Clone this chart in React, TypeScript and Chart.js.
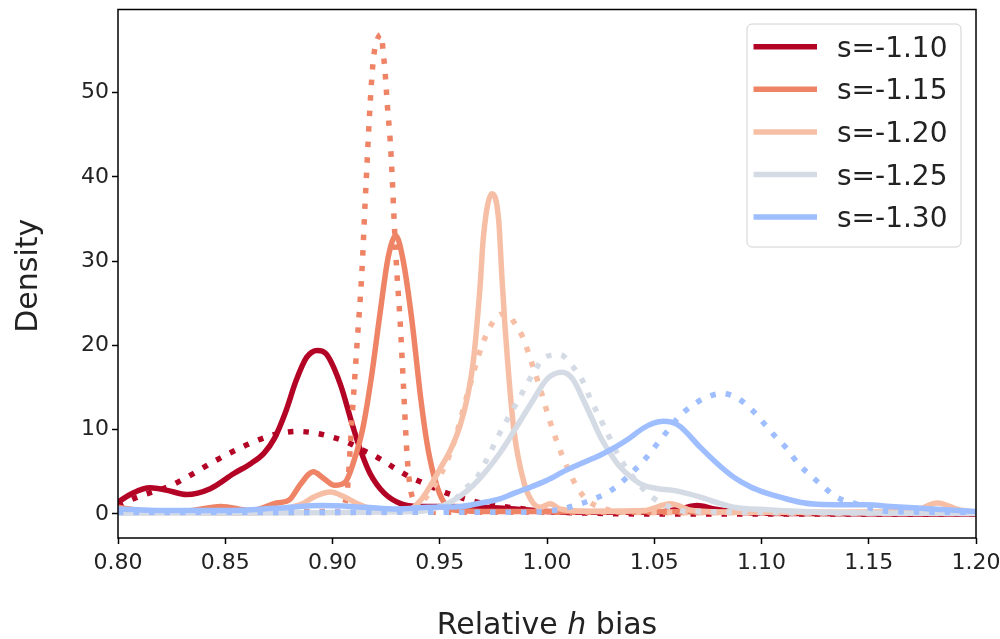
import { useEffect, useRef } from 'react';
import { Chart, registerables } from 'chart.js';

Chart.register(...registerables);

// Series labels and colours (one per slope value)
const seriesLabels = ['s=-1.10', 's=-1.15', 's=-1.20', 's=-1.25', 's=-1.30'];
const seriesColors = ['#b40426', '#ee8366', '#f6bfa5', '#d5dbe5', '#9ebeff'];

// Axis ticks
const xTickValues = [0.8, 0.85, 0.9, 0.95, 1.0, 1.05, 1.1, 1.15, 1.2];
const yTickValues = [0, 10, 20, 30, 40, 50];

// s = -1.10
const s110SolidX = [0.800, 0.807, 0.815, 0.823, 0.832, 0.843, 0.854, 0.862, 0.868, 0.873, 0.878, 0.883, 0.888, 0.893, 0.897, 0.9035, 0.9096, 0.913, 0.9175, 0.924, 0.932, 0.940, 0.955, 0.970, 0.985, 1.000, 1.020, 1.050, 1.062, 1.070, 1.078, 1.090, 1.120, 1.200];
const s110SolidY = [1.4, 2.5, 3.1, 2.8, 2.3, 3.0, 4.8, 6.0, 7.2, 9.0, 12.0, 15.8, 18.6, 19.4, 19.0, 15.5, 10.3, 7.6, 4.8, 2.5, 1.2, 0.9, 0.9, 0.8, 0.6, 0.3, 0.2, 0.2, 0.6, 1.0, 0.6, 0.2, 0.05, 0.0];
const s110DotX = [0.800, 0.809, 0.824, 0.831, 0.846, 0.860, 0.870, 0.876, 0.883, 0.892, 0.900, 0.907, 0.914, 0.921, 0.928, 0.936, 0.943, 0.950, 0.959, 0.973, 0.986, 1.000, 1.020, 1.050, 1.200];
const s110DotY = [1.0, 2.0, 3.3, 4.2, 6.4, 8.2, 9.2, 9.6, 9.8, 9.6, 9.1, 8.5, 7.6, 6.7, 5.6, 4.4, 3.6, 2.8, 2.0, 1.1, 0.7, 0.3, 0.1, 0.0, 0.0];

// s = -1.15
const s115SolidX = [0.800, 0.815, 0.830, 0.848, 0.862, 0.874, 0.880, 0.885, 0.891, 0.896, 0.901, 0.906, 0.910, 0.914, 0.918, 0.922, 0.926, 0.9295, 0.933, 0.937, 0.941, 0.944, 0.947, 0.951, 0.956, 0.970, 1.000, 1.050, 1.100, 1.200];
const s115SolidY = [0.8, 0.3, 0.3, 0.9, 0.4, 1.3, 1.7, 3.5, 5.0, 4.2, 3.4, 3.8, 6.3, 10.0, 16.0, 23.5, 30.5, 33.0, 30.0, 23.0, 14.0, 8.5, 4.8, 1.8, 0.5, 0.3, 0.3, 0.3, 0.2, 0.1];
const s115DotX = [0.800, 0.880, 0.903, 0.9067, 0.9090, 0.9115, 0.9137, 0.9152, 0.9160, 0.9172, 0.9188, 0.9199, 0.9227, 0.9237, 0.9245, 0.9256, 0.9269, 0.9278, 0.9289, 0.9300, 0.9315, 0.9331, 0.9347, 0.9362, 0.9385, 0.942, 0.950, 1.000, 1.200];
const s115DotY = [0.2, 0.3, 0.3, 2.4, 11.0, 20.4, 28.7, 36.9, 41.0, 47.1, 53.3, 55.4, 56.9, 54.6, 52.5, 48.4, 44.3, 40.1, 33.9, 28.7, 23.0, 15.1, 7.2, 3.2, 1.3, 0.4, 0.2, 0.2, 0.1];

// s = -1.20
const s120SolidX = [0.800, 0.830, 0.860, 0.885, 0.892, 0.899, 0.905, 0.911, 0.920, 0.935, 0.941, 0.946, 0.950, 0.955, 0.9595, 0.963, 0.9657, 0.9688, 0.9704, 0.9743, 0.9775, 0.979, 0.9805, 0.9844, 0.9893, 0.9935, 0.997, 1.0015, 1.006, 1.020, 1.045, 1.0575, 1.068, 1.090, 1.170, 1.182, 1.192, 1.200];
const s120SolidY = [0.6, 0.2, 0.1, 1.1, 2.1, 2.6, 2.1, 1.3, 0.5, 0.4, 1.6, 3.5, 5.3, 7.6, 10.5, 14.0, 18.2, 27.0, 33.0, 38.0, 34.8, 28.0, 22.0, 10.3, 3.7, 1.3, 0.8, 1.2, 0.6, 0.3, 0.4, 1.2, 0.4, 0.2, 0.3, 1.3, 0.5, 0.2];
const s120DotX = [0.800, 0.930, 0.941, 0.949, 0.956, 0.963, 0.970, 0.976, 0.981, 0.985, 0.989, 0.992, 0.9968, 1.0015, 1.007, 1.014, 1.019, 1.026, 1.035, 1.200];
const s120DotY = [0.1, 0.2, 1.3, 4.0, 8.0, 14.3, 20.2, 23.2, 23.8, 22.6, 20.8, 18.6, 14.9, 10.9, 7.0, 3.2, 1.6, 0.7, 0.2, 0.1];

// s = -1.25
const s125SolidX = [0.800, 0.940, 0.947, 0.955, 0.963, 0.970, 0.978, 0.986, 0.9935, 1.000, 1.007, 1.012, 1.017, 1.021, 1.025, 1.030, 1.034, 1.040, 1.045, 1.052, 1.059, 1.0715, 1.080, 1.087, 1.103, 1.130, 1.200];
const s125SolidY = [0.1, 0.3, 0.6, 1.4, 2.8, 4.6, 7.2, 10.4, 13.5, 16.0, 16.8, 16.0, 13.5, 11.3, 9.1, 7.0, 5.6, 4.2, 3.4, 3.0, 2.8, 2.0, 1.3, 0.8, 0.5, 0.2, 0.05];
const s125DotX = [0.800, 0.945, 0.955, 0.961, 0.9675, 0.972, 0.978, 0.9866, 0.9936, 0.999, 1.006, 1.012, 1.0164, 1.020, 1.0234, 1.027, 1.034, 1.044, 1.0496, 1.0575, 1.065, 1.200];
const s125DotY = [0.1, 0.3, 1.2, 2.8, 4.4, 6.5, 9.6, 13.5, 16.7, 18.6, 18.9, 17.5, 15.9, 13.8, 12.0, 10.2, 6.6, 3.2, 1.9, 0.8, 0.3, 0.1];

// s = -1.30
const s130SolidX = [0.800, 0.820, 0.850, 0.875, 0.895, 0.915, 0.930, 0.945, 0.960, 0.969, 0.978, 0.985, 0.9935, 1.000, 1.009, 1.017, 1.025, 1.031, 1.0374, 1.045, 1.050, 1.054, 1.058, 1.062, 1.0715, 1.081, 1.088, 1.095, 1.102, 1.110, 1.118, 1.126, 1.138, 1.149, 1.160, 1.173, 1.186, 1.200];
const s130SolidY = [0.6, 0.4, 0.4, 0.7, 1.0, 0.8, 0.6, 0.8, 0.9, 1.3, 1.8, 2.5, 3.3, 4.0, 5.2, 6.1, 7.0, 7.8, 8.8, 10.2, 10.8, 11.0, 10.9, 10.4, 7.9, 5.6, 4.2, 3.2, 2.5, 1.9, 1.4, 1.15, 1.1, 1.1, 0.9, 0.7, 0.5, 0.3];
const s130DotX = [0.800, 0.990, 1.005, 1.013, 1.020, 1.028, 1.034, 1.040, 1.046, 1.051, 1.056, 1.061, 1.0668, 1.074, 1.0817, 1.089, 1.0957, 1.101, 1.1064, 1.112, 1.117, 1.1228, 1.129, 1.135, 1.143, 1.1506, 1.160, 1.200];
const s130DotY = [0.2, 0.2, 0.5, 1.0, 1.6, 2.5, 3.6, 5.0, 6.6, 8.2, 9.8, 11.4, 12.7, 13.8, 14.3, 13.7, 12.3, 10.8, 9.2, 7.7, 6.0, 4.6, 3.2, 2.0, 1.3, 0.7, 0.3, 0.2];

const solidSeries = [
  [s110SolidX, s110SolidY],
  [s115SolidX, s115SolidY],
  [s120SolidX, s120SolidY],
  [s125SolidX, s125SolidY],
  [s130SolidX, s130SolidY],
];
const dottedSeries = [
  [s110DotX, s110DotY],
  [s115DotX, s115DotY],
  [s120DotX, s120DotY],
  [s125DotX, s125DotY],
  [s130DotX, s130DotY],
];

const FONT = "'DejaVu Sans', sans-serif";
const LINE_W = 5.5;

const toPoints = (xs: number[], ys: number[]) => xs.map((x, i) => ({ x, y: ys[i] }));

// keep the plot area fixed: drop the extra room Chart.js reserves for edge labels
const noEdgePadding = (s: any) => {
  s.paddingTop = 0;
  s.paddingBottom = 0;
  s.paddingLeft = 0;
  s.paddingRight = 0;
};

// Frame, legend and axis titles drawn on top of the plotted curves
const decorations = {
  id: 'decorations',
  afterDatasetsDraw(chart: any) {
    const { ctx, chartArea: a } = chart;
    ctx.save();

    // full box around the plot area
    ctx.strokeStyle = '#000';
    ctx.lineWidth = 1.5;
    ctx.strokeRect(a.left, a.top, a.right - a.left, a.bottom - a.top);

    // legend
    const entries = chart.data.datasets.filter((d: any) => !d.borderDash);
    const boxW = 214;
    const boxH = 223;
    const boxX = a.right - 15 - boxW;
    const boxY = a.top + 14.5;
    ctx.beginPath();
    ctx.roundRect(boxX, boxY, boxW, boxH, 5);
    ctx.fillStyle = 'rgba(255,255,255,0.8)';
    ctx.fill();
    ctx.strokeStyle = '#d0d0d0';
    ctx.lineWidth = 1;
    ctx.stroke();
    ctx.font = `28px ${FONT}`;
    ctx.textAlign = 'left';
    ctx.textBaseline = 'alphabetic';
    entries.forEach((d: any, i: number) => {
      const rowY = boxY + 22.7 + i * 42.6;
      ctx.beginPath();
      ctx.moveTo(boxX + 6.5, rowY);
      ctx.lineTo(boxX + 70, rowY);
      ctx.strokeStyle = d.borderColor;
      ctx.lineWidth = LINE_W;
      ctx.lineCap = 'butt';
      ctx.stroke();
      ctx.fillStyle = '#222';
      ctx.fillText(d.label, boxX + 90, rowY + 10);
    });

    // y axis title
    ctx.fillStyle = '#222';
    ctx.font = `30px ${FONT}`;
    ctx.save();
    ctx.translate(37, (a.top + a.bottom) / 2 + 2);
    ctx.rotate(-Math.PI / 2);
    ctx.textAlign = 'center';
    ctx.fillText('Density', 0, 0);
    ctx.restore();

    // x axis title with an italic symbol
    const parts = [
      { t: 'Relative ', f: `30px ${FONT}` },
      { t: 'h', f: `italic 30px ${FONT}` },
      { t: ' bias', f: `30px ${FONT}` },
    ];
    let total = 0;
    const widths = parts.map((p) => {
      ctx.font = p.f;
      const w = ctx.measureText(p.t).width;
      total += w;
      return w;
    });
    let x = (a.left + a.right) / 2 - total / 2;
    ctx.textAlign = 'left';
    parts.forEach((p, i) => {
      ctx.font = p.f;
      ctx.fillText(p.t, x, 633.5);
      x += widths[i];
    });

    ctx.restore();
  },
};

export default function App() {
  const canvasRef = useRef<HTMLCanvasElement | null>(null);

  useEffect(() => {
    if (!canvasRef.current) return;
    const datasets: any[] = [];
    seriesLabels.forEach((label, i) => {
      datasets.push({
        label,
        data: toPoints(solidSeries[i][0], solidSeries[i][1]),
        borderColor: seriesColors[i],
        borderWidth: LINE_W,
        cubicInterpolationMode: 'monotone',
        pointRadius: 0,
        fill: false,
      });
      datasets.push({
        label: label + ' (dotted)',
        data: toPoints(dottedSeries[i][0], dottedSeries[i][1]),
        borderColor: seriesColors[i],
        borderWidth: LINE_W,
        borderDash: [LINE_W, 10],
        cubicInterpolationMode: 'monotone',
        pointRadius: 0,
        fill: false,
      });
    });
    // later series are painted over earlier ones
    datasets.forEach((d, i) => (d.order = datasets.length - i));

    const chart = new Chart(canvasRef.current, {
      type: 'line',
      data: { datasets },
      plugins: [decorations],
      options: {
        animation: false,
        responsive: false,
        devicePixelRatio: 1,
        layout: { padding: { top: 9.5, right: 24, left: 0, bottom: 0 } },
        plugins: {
          legend: { display: false },
          tooltip: { enabled: false },
        },
        scales: {
          x: {
            type: 'linear',
            min: 0.8,
            max: 1.2,
            afterFit: (s: any) => {
              s.height = 101;
              noEdgePadding(s);
            },
            afterBuildTicks: (s: any) => {
              s.ticks = xTickValues.map((v) => ({ value: v }));
            },
            border: { display: false },
            grid: {
              drawOnChartArea: false,
              drawTicks: true,
              tickLength: 6,
              tickWidth: 1.5,
              tickColor: '#000',
            },
            ticks: {
              autoSkip: false,
              maxRotation: 0,
              padding: 6,
              color: '#222',
              font: { family: FONT, size: 22 },
              callback: (v: any) => Number(v).toFixed(2),
            },
          },
          y: {
            type: 'linear',
            min: -2.85,
            max: 59.85,
            afterFit: (s: any) => {
              s.width = 118;
              noEdgePadding(s);
            },
            afterBuildTicks: (s: any) => {
              s.ticks = yTickValues.map((v) => ({ value: v }));
            },
            border: { display: false },
            grid: {
              drawOnChartArea: false,
              drawTicks: true,
              tickLength: 6,
              tickWidth: 1.5,
              tickColor: '#000',
            },
            ticks: {
              padding: 3,
              color: '#222',
              font: { family: FONT, size: 22 },
              callback: (v: any) => String(v),
            },
          },
        },
      },
    });
    return () => chart.destroy();
  }, []);

  return (
    <div style={{ position: 'absolute', left: 0, top: 0, width: 1000, height: 639, background: '#fff' }}>
      <canvas ref={canvasRef} width={1000} height={639} style={{ display: 'block' }} />
    </div>
  );
}
